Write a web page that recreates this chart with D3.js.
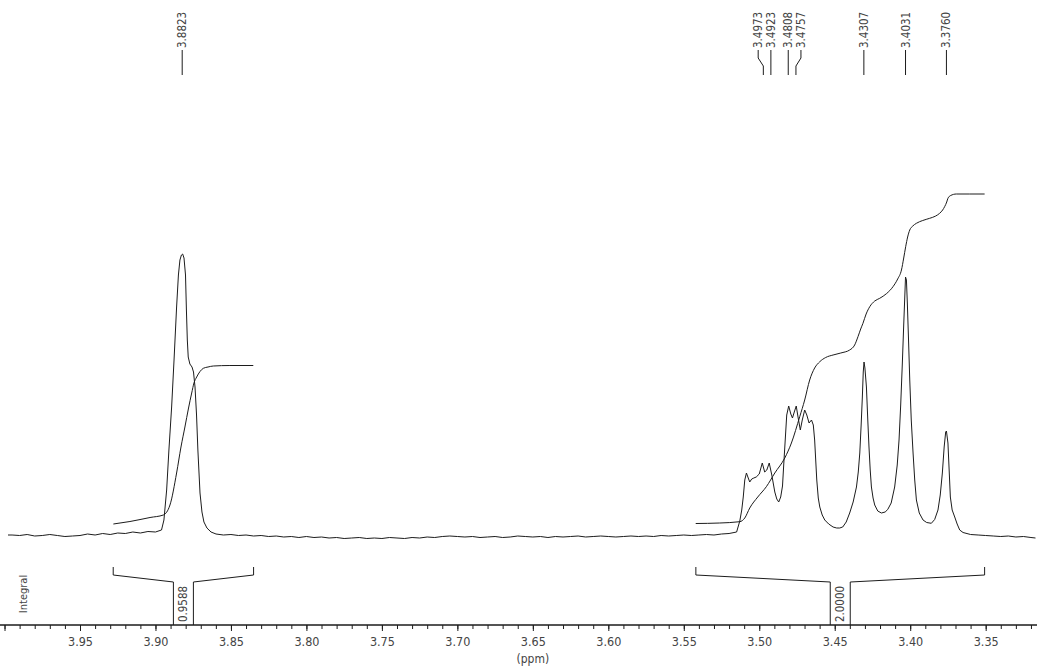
<!DOCTYPE html>
<html>
<head>
<meta charset="utf-8">
<script src="https://cdn.jsdelivr.net/npm/d3@7"></script>
<style>
  html, body { margin: 0; padding: 0; background: #fff; }
  svg { display: block; }
  .lbl { font-family: 'DejaVu Sans Condensed', 'DejaVu Sans', sans-serif; font-stretch: condensed; fill: #444; }
</style>
</head>
<body>
<svg id="chart" width="1037" height="668"></svg>
<script>
// ---------- DATA ----------
// ppm axis
const axisDomain = [4.003, 3.316];
const majorTickValues = [4.00, 3.95, 3.90, 3.85, 3.80, 3.75, 3.70, 3.65, 3.60, 3.55, 3.50, 3.45, 3.40, 3.35];
const majorTickLabels = ["", "3.95", "3.90", "3.85", "3.80", "3.75", "3.70", "3.65", "3.60", "3.55", "3.50", "3.45", "3.40", "3.35"];
const axisTitle = "(ppm)";

// spectrum trace (ppm, intensity a.u.)
const spectrumPpm = [
  3.9977, 3.995, 3.990, 3.985, 3.980, 3.975, 3.970, 3.965, 3.960, 3.955, 3.950, 3.945, 3.940, 3.935, 3.930, 3.925, 3.920, 3.915, 3.910, 3.905, 3.900, 3.896,
  3.8944, 3.8926, 3.8911, 3.8893, 3.8877, 3.8860, 3.8848, 3.8838, 3.8828, 3.8820, 3.8811, 3.8801, 3.8795, 3.8789, 3.8783, 3.8772, 3.8758, 3.8748, 3.8738, 3.8728, 3.8719, 3.8705, 3.8692, 3.8679, 3.8659, 3.8632, 3.8599,
  3.855, 3.850, 3.845, 3.840, 3.835, 3.830, 3.825, 3.820, 3.815, 3.810, 3.805, 3.800, 3.795, 3.790, 3.785, 3.780, 3.775, 3.770, 3.765, 3.760, 3.755, 3.750, 3.745, 3.740, 3.735, 3.730, 3.725, 3.720, 3.715, 3.710, 3.705, 3.700, 3.695, 3.690, 3.685, 3.680, 3.675, 3.670, 3.665, 3.660, 3.655, 3.650, 3.645, 3.640, 3.635, 3.630, 3.625, 3.620, 3.615, 3.610, 3.605, 3.600, 3.595, 3.590, 3.585, 3.580, 3.575, 3.570, 3.565, 3.560, 3.555, 3.550, 3.545, 3.540, 3.535, 3.530, 3.525, 3.520, 3.515,
  3.5129, 3.5116, 3.5106, 3.5096, 3.5085, 3.5073, 3.5063, 3.5050, 3.5036, 3.5020, 3.5000, 3.4980, 3.4964, 3.4950, 3.4934, 3.4917, 3.4897, 3.4884, 3.4871, 3.4858, 3.4846, 3.4838, 3.4828, 3.4818, 3.4805, 3.4791, 3.4780, 3.4768, 3.4755, 3.4742, 3.4728, 3.4715, 3.4699, 3.4685, 3.4670, 3.4654, 3.4642, 3.4633, 3.4626, 3.4619, 3.4609, 3.4599, 3.4583, 3.4566, 3.4540, 3.4511, 3.4487, 3.4467, 3.4447, 3.4424, 3.4401, 3.4378, 3.4356, 3.4344, 3.4334, 3.4325, 3.4317, 3.4311, 3.4306, 3.4300, 3.4290, 3.4281, 3.4273, 3.4265, 3.4257, 3.4246, 3.4235, 3.4215, 3.4191, 3.4166, 3.4149, 3.4126, 3.4103, 3.4086, 3.4074, 3.4063, 3.4052, 3.4043, 3.4036, 3.4031, 3.4025, 3.4019, 3.4011, 3.4003, 3.3993, 3.3981, 3.3970, 3.3959, 3.3940, 3.3915, 3.3891, 3.3860, 3.3838, 3.3816, 3.3801, 3.3787, 3.3775, 3.3765, 3.3760, 3.3750, 3.3742, 3.3734, 3.3722, 3.3705, 3.3689, 3.3672, 3.365,
  3.360, 3.355, 3.350, 3.345, 3.340, 3.335, 3.330, 3.325, 3.320, 3.317
];
const spectrumInt = [
  2, 2, 1.5, 2.5, 1, 1.5, 2.5, 1.5, 0.5, 1, 1.5, 3, 2, 3.5, 2.5, 4, 3.5, 5, 4, 5.5, 5, 7,
  17, 47, 87, 130, 177, 230, 262, 277, 282, 283, 279, 262, 227, 197, 180, 173, 170, 165, 150, 122, 87, 44, 25, 15, 9, 5, 3,
  2, 2.5, 1.5, 2, 1, 1.5, 0.5, 1, 0, 0.5, -0.5, 0.5, -0.5, 0, -1, -0.5, -1.5, -1, -0.5, -1.5, -1, -1.5, -0.5, -1, -1.5, -0.5, -1, 0, -0.5, 0.5, 1, 0.5, 0, 0.5, -0.5, 0, 0.5, -0.5, 0, 1, 0.5, 0, 0.5, -0.5, 0.5, 0, 0.5, 1, 0, 0.5, 1, 0.5, 0, 0.5, 1, 0.5, 1, 0.5, 1.5, 1, 1.5, 2, 1.5, 2, 2.5, 2, 3, 3.5, 5,
  16, 27, 40, 57, 64, 59, 55, 58, 59, 60, 63, 74, 65, 67, 74, 62, 45, 38, 35, 40, 51, 72, 97, 122, 131, 123, 119, 125, 131, 119, 107, 117, 127, 122, 114, 117, 112, 97, 77, 57, 39, 30, 22, 17, 13, 10, 9, 9, 10, 15, 24, 35, 50, 65, 84, 112, 140, 165, 175, 169, 150, 117, 90, 67, 50, 39, 32, 26, 24, 25, 27.5, 34, 50, 72, 97, 132, 174, 212, 240, 260, 257, 234, 197, 157, 117, 84, 57, 37, 24, 17, 14.5, 13.7, 17.5, 27, 42, 64, 90, 105, 106, 94, 67, 40, 27, 20, 13, 7, 4.5,
  2.5, 2, 1.5, 1, 0.5, 1, 0, 0.5, -0.5, -1
];

// integral traces (ppm, cumulative a.u. on same vertical scale)
const integral1Ppm = [3.9279, 3.9169, 3.9036, 3.8948, 3.8904, 3.8860, 3.8831, 3.8805, 3.8781, 3.8760, 3.8745, 3.8727, 3.8705, 3.8683, 3.8652, 3.8617, 3.8507, 3.8352];
const integral1Val = [13, 15.5, 19.5, 22, 32, 64, 90, 110, 129, 144, 154, 160, 165.5, 168.7, 170, 171, 171.5, 171.5];
const integral2Ppm = [3.5421, 3.5262, 3.5129, 3.5096, 3.5063, 3.5010, 3.4953, 3.4897, 3.4831, 3.4787, 3.4732, 3.4699, 3.4666, 3.4633, 3.4599, 3.4560, 3.4511, 3.4460, 3.4401, 3.4368, 3.4346, 3.4328, 3.4313, 3.4292, 3.4268, 3.4235, 3.4202, 3.4156, 3.4114, 3.4083, 3.4058, 3.4043, 3.4030, 3.4017, 3.4003, 3.3983, 3.3959, 3.3917, 3.3871, 3.3831, 3.3805, 3.3785, 3.3772, 3.3758, 3.3750, 3.3732, 3.3694, 3.3606, 3.3507];
const integral2Val = [13.5, 14, 15.3, 19, 29, 40, 50.3, 64, 79, 94, 120.3, 137, 157, 169, 175.3, 179.5, 182, 184, 187, 192, 200.3, 208, 213.7, 223, 230.3, 236, 238.7, 243.5, 250.3, 258, 267, 279, 290.3, 300, 307, 311, 313.7, 316.5, 318.7, 321, 323.7, 327, 330.3, 335, 338.7, 341.5, 343, 343, 343];

// integral regions
const integralFrom = [3.928, 3.542];
const integralTo = [3.835, 3.3507];
const integralValues = ["0.9588", "2.0000"];
const integralTitle = "Integral";

// picked peaks
const peakPpm = [3.8823, 3.4973, 3.4923, 3.4808, 3.4757, 3.4307, 3.4031, 3.3760];
const peakLabels = ["3.8823", "3.4973", "3.4923", "3.4808", "3.4757", "3.4307", "3.4031", "3.3760"];

// ---------- DRAW ----------
const W = 1037, H = 668;
const svg = d3.select("#chart");
const x = d3.scaleLinear().domain(axisDomain).range([0, W]);
const y = d3.scaleLinear().domain([0, 282]).range([537, 255]);

const axisY = 625;
const ink = "#1c1c1c";

// spectrum
const spec = spectrumPpm.map((p, i) => [p, spectrumInt[i]]);
svg.append("path")
  .attr("d", d3.line().x(d => x(d[0])).y(d => y(d[1]))(spec))
  .attr("fill", "none").attr("stroke", ink).attr("stroke-width", 1).attr("stroke-linejoin", "round");

// integral curves
[[integral1Ppm, integral1Val], [integral2Ppm, integral2Val]].forEach(([pp, vv]) => {
  const pts = pp.map((p, i) => [p, vv[i]]);
  svg.append("path")
    .attr("d", d3.line().curve(d3.curveMonotoneX).x(d => x(d[0])).y(d => y(d[1]))(pts))
    .attr("fill", "none").attr("stroke", ink).attr("stroke-width", 1);
});

// axis
const axisG = svg.append("g").attr("transform", `translate(0,${axisY})`);
const minorTicks = d3.range(400, 331, -1).map(v => v / 100);
const minorAxis = d3.axisBottom(x).tickValues(minorTicks).tickSize(4).tickFormat("");
axisG.append("g").call(minorAxis);
const majorAxis = d3.axisBottom(x).tickValues(majorTickValues).tickSize(6).tickPadding(6)
  .tickFormat((d, i) => majorTickLabels[i]);
const mg = axisG.append("g").call(majorAxis);
axisG.selectAll(".domain").attr("d", `M0,0H${W}`).attr("stroke", ink);
axisG.selectAll(".tick line").attr("stroke", ink);
mg.selectAll(".tick text").attr("class", "lbl").attr("font-size", 12.5).attr("fill", "#444");
svg.append("text").attr("class", "lbl").attr("x", x(3.65)).attr("y", 663)
  .attr("text-anchor", "middle").attr("font-size", 12).text(axisTitle);

// integral brackets
const hookTop = 567, hookBot = 575, boxTop = 582, boxHalf = 10;
integralFrom.forEach((f, i) => {
  const x0 = x(f), x1 = x(integralTo[i]);
  const xm = (x0 + x1) / 2;
  const path = d3.path();
  path.moveTo(x0, hookTop); path.lineTo(x0, hookBot); path.lineTo(xm - boxHalf, boxTop); path.lineTo(xm - boxHalf, axisY);
  path.moveTo(xm + boxHalf, axisY); path.lineTo(xm + boxHalf, boxTop); path.lineTo(x1, hookBot); path.lineTo(x1, hookTop);
  svg.append("path").attr("d", path.toString()).attr("fill", "none").attr("stroke", ink).attr("stroke-width", 1);
  svg.append("text").attr("class", "lbl").attr("font-size", 11.5)
    .attr("transform", `translate(${xm},604) rotate(-90)`)
    .attr("text-anchor", "middle").attr("dy", "0.35em").text(integralValues[i]);
});
svg.append("text").attr("class", "lbl").attr("font-size", 11)
  .attr("transform", `translate(23,594) rotate(-90)`)
  .attr("text-anchor", "middle").attr("dy", "0.35em").text(integralTitle);

// peak labels with simple spreading
const gap = 12.7;
const px = peakPpm.map(p => x(p));
const lx = px.slice();
let clusters = [], cur = [0];
for (let i = 1; i < px.length; i++) {
  if (px[i] - px[i - 1] < 3 * gap) cur.push(i); else { clusters.push(cur); cur = [i]; }
}
clusters.push(cur);
clusters.forEach(c => {
  if (c.length < 2) return;
  const center = d3.mean(c, i => px[i]);
  for (let k = 0; k < c.length - 1; k++) {
    const a = c[k], b = c[k + 1];
    if (lx[b] - lx[a] < gap) {
      if (Math.abs(px[a] - center) > Math.abs(px[b] - center)) lx[a] = lx[b] - gap;
      else lx[b] = lx[a] + gap;
    }
  }
});
const labTextEnd = 48, lineTop = 50, bendTop = 58, bendBot = 66, lineBot = 75;
peakPpm.forEach((p, i) => {
  const path = d3.path();
  path.moveTo(lx[i], lineTop);
  if (Math.abs(lx[i] - px[i]) > 0.5) {
    path.lineTo(lx[i], bendTop); path.lineTo(px[i], bendBot);
  }
  path.lineTo(px[i], lineBot);
  svg.append("path").attr("d", path.toString()).attr("fill", "none").attr("stroke", ink).attr("stroke-width", 1);
  svg.append("text").attr("class", "lbl").attr("font-size", 11.5)
    .attr("transform", `translate(${lx[i]},${labTextEnd}) rotate(-90)`)
    .attr("text-anchor", "start").attr("dy", "0.35em").text(peakLabels[i]);
});
</script>
</body>
</html>
